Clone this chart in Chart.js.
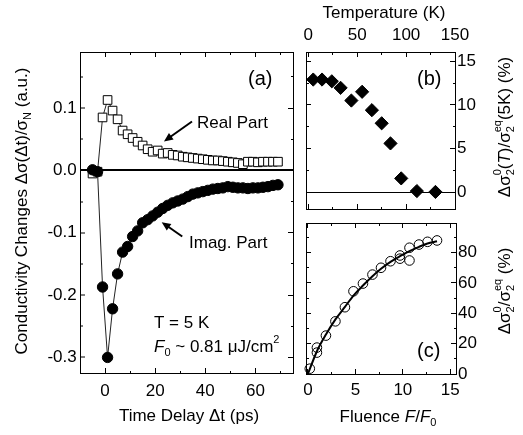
<!DOCTYPE html>
<html>
<head>
<meta charset="utf-8">
<script src="https://cdn.jsdelivr.net/npm/chart.js@4.4.1/dist/chart.umd.min.js"></script>
<style>
  body { margin: 0; background: #fff; }
  #wrap { position: relative; width: 523px; height: 435px; }
  #wrap canvas { position: absolute; left: 0; top: 0; }
</style>
</head>
<body>
<div id="wrap">
  <canvas id="chartA" width="523" height="435"></canvas>
  <canvas id="chartB" width="523" height="435"></canvas>
  <canvas id="chartC" width="523" height="435"></canvas>
</div>
<script>
// (a) conductivity changes vs time delay
var delayPs = [-5, -3, -1, 1, 3, 5, 7, 9, 11, 13, 15, 17, 19, 21, 23, 25, 27, 29, 31, 33,
  35, 37, 39, 41, 43, 45, 47, 49, 51, 53, 55, 57, 59, 61, 63, 65, 67, 69];
var realPart = [-0.005, -0.002, 0.085, 0.113, 0.096, 0.082, 0.064, 0.058, 0.052, 0.046,
  0.040, 0.034, 0.030, 0.032, 0.027, 0.028, 0.025, 0.024, 0.022, 0.021,
  0.020, 0.019, 0.018, 0.017, 0.016, 0.016, 0.015, 0.014, 0.013, 0.012,
  0.010, 0.014, 0.014, 0.013, 0.014, 0.014, 0.014, 0.014];
var imagPart = [0.001, -0.002, -0.187, -0.300, -0.222, -0.166, -0.131, -0.122, -0.106, -0.097,
  -0.084, -0.079, -0.073, -0.067, -0.061, -0.056, -0.052, -0.049, -0.046, -0.042,
  -0.038, -0.036, -0.034, -0.032, -0.030, -0.029, -0.028, -0.026, -0.027, -0.028,
  -0.028, -0.029, -0.028, -0.028, -0.027, -0.026, -0.024, -0.023];

// (b) temperature dependence
var tempK = [5, 14, 24, 33, 44, 55, 65, 75, 84, 95, 111, 130];
var sigmaT = [12.9, 12.9, 12.7, 11.95, 10.5, 11.5, 9.4, 7.9, 5.6, 1.6, 0.15, 0.05];

// (c) fluence dependence
var fluence = [0.2, 0.95, 0.95, 1.9, 2.9, 3.9, 4.8, 5.8, 6.8, 7.7, 8.7, 9.7, 9.7, 10.7, 10.7, 11.7, 12.6, 13.6];
var sigmaF = [3.5, 17.4, 14.1, 25.3, 34.7, 44, 54.5, 59.6, 65.5, 70, 74.3, 78.1, 76, 83.2, 74.8, 85.3, 87.1, 88];
var fitFluence = [0, 0.95, 1.9, 2.9, 3.9, 4.8, 5.8, 6.8, 7.7, 8.7, 9.7, 10.7, 11.7, 12.6, 13.6];
var fitSigma = [0, 15, 26, 36, 44.2, 51.7, 58.3, 64.4, 69.3, 73.9, 77.6, 80.9, 83.8, 86, 87.5];

var FONT = '"Liberation Sans", Arial, sans-serif';
Chart.defaults.font.family = FONT;
Chart.defaults.font.size = 17;
Chart.defaults.color = '#000';

function isMajor(v, major) {
  var r = v / major;
  return Math.abs(r - Math.round(r)) < 1e-6;
}

// boxed axis with inward ticks, short minor ticks, fixed box size
function frameAxis(position, min, max, step, major, size, fmt, pad) {
  var len = 5, minor = 3;
  var fromBorder = position === 'bottom' || position === 'right';
  return {
    type: 'linear',
    position: position,
    min: min,
    max: max,
    afterFit: function (s) {
      if (s.isHorizontal()) s.height = size; else s.width = size;
    },
    border: { display: true, color: '#000', width: 1 },
    grid: {
      drawOnChartArea: false,
      tickLength: -len,
      tickWidth: 1,
      tickColor: '#000',
      tickBorderDash: function (c) {
        if (!c.tick || isMajor(c.tick.value, major)) return [];
        return fromBorder ? [minor, 100] : [0, len - minor, minor, 100];
      }
    },
    ticks: {
      display: !!fmt,
      stepSize: step,
      includeBounds: false,
      autoSkip: false,
      maxRotation: 0,
      padding: pad || 0,
      font: { size: 17 },
      callback: function (v) {
        return fmt && isMajor(v, major) ? fmt(v) : '';
      }
    }
  };
}

function zeroLine(axis, width) {
  axis.grid.drawOnChartArea = true;
  axis.grid.color = function (c) {
    return c.tick && Math.abs(c.tick.value) < 1e-9 ? '#000' : 'rgba(0,0,0,0)';
  };
  axis.grid.lineWidth = width;
  return axis;
}

function fmtInt(v) { return String(Math.round(v)); }
function fmt1(v) { return (Math.round(v * 10) / 10).toFixed(1); }

function pts(xs, ys) {
  return xs.map(function (x, i) { return { x: x, y: ys[i] }; });
}

// text with italics, subscripts and superscripts
function drawRich(ctx, item) {
  var size = item.size || 17, small = Math.round(size * 0.62);
  ctx.save();
  ctx.translate(item.x, item.y);
  ctx.rotate(item.rot || 0);
  ctx.textBaseline = 'middle';
  ctx.textAlign = 'left';
  ctx.fillStyle = '#000';
  var w = 0, ops = [];
  item.parts.forEach(function (p) {
    if (typeof p === 'string') p = { t: p };
    if (p.t !== undefined) {
      var f = (p.i ? 'italic ' : '') + size + 'px ' + FONT;
      ctx.font = f;
      ops.push({ s: p.t, f: f, dx: w, dy: 0 });
      w += ctx.measureText(p.t).width;
    } else {
      var fs = small + 'px ' + FONT, ww = 0;
      ctx.font = fs;
      if (p.sub) {
        ops.push({ s: p.sub, f: fs, dx: w, dy: size * 0.38 });
        ww = Math.max(ww, ctx.measureText(p.sub).width);
      }
      if (p.sup) {
        ops.push({ s: p.sup, f: fs, dx: w, dy: -size * 0.42 });
        ww = Math.max(ww, ctx.measureText(p.sup).width);
      }
      w += ww;
    }
  });
  var x0 = item.align === 'center' ? -w / 2 : item.align === 'right' ? -w : 0;
  ops.forEach(function (o) {
    ctx.font = o.f;
    ctx.fillText(o.s, x0 + o.dx, o.dy);
  });
  ctx.restore();
}

function drawArrow(ctx, x1, y1, x2, y2) {
  var a = Math.atan2(y2 - y1, x2 - x1), L = 9, W = 4;
  var c = Math.cos(a), s = Math.sin(a);
  ctx.save();
  ctx.strokeStyle = '#000';
  ctx.fillStyle = '#000';
  ctx.lineWidth = 2;
  ctx.beginPath();
  ctx.moveTo(x1, y1);
  ctx.lineTo(x2 - L * 0.7 * c, y2 - L * 0.7 * s);
  ctx.stroke();
  ctx.beginPath();
  ctx.moveTo(x2, y2);
  ctx.lineTo(x2 - L * c + W * s, y2 - L * s - W * c);
  ctx.lineTo(x2 - L * c - W * s, y2 - L * s + W * c);
  ctx.closePath();
  ctx.fill();
  ctx.restore();
}

function notes(texts, arrows) {
  return {
    id: 'notes',
    afterDraw: function (chart) {
      var ctx = chart.ctx, sx = chart.scales.x, sy = chart.scales.y;
      (arrows || []).forEach(function (a) {
        drawArrow(ctx, sx.getPixelForValue(a[0]), sy.getPixelForValue(a[1]),
          sx.getPixelForValue(a[2]), sy.getPixelForValue(a[3]));
      });
      texts.forEach(function (t) { drawRich(ctx, t); });
    }
  };
}

var base = {
  responsive: false,
  animation: false,
  devicePixelRatio: 1,
  layout: { padding: 0 },
  plugins: { legend: { display: false }, tooltip: { enabled: false } }
};

function opts(scales) {
  return Object.assign({}, base, { scales: scales });
}

// ---- panel (a)
new Chart(document.getElementById('chartA'), {
  type: 'scatter',
  data: {
    datasets: [{
      data: pts(delayPs, imagPart),
      xAxisID: 'x', yAxisID: 'y',
      showLine: true, borderColor: '#222', borderWidth: 1,
      pointStyle: 'circle', pointRadius: 5.2,
      pointBackgroundColor: '#000', pointBorderColor: '#000', pointBorderWidth: 1,
      clip: false
    }, {
      data: pts(delayPs, realPart),
      xAxisID: 'x', yAxisID: 'y',
      showLine: true, borderColor: '#222', borderWidth: 1,
      pointStyle: 'rect', pointRadius: 6.1,
      pointBackgroundColor: '#fff', pointBorderColor: '#000', pointBorderWidth: 1,
      clip: false
    }]
  },
  options: opts({
    x: frameAxis('bottom', -10, 75, 10, 20, 62, fmtInt, 13.5),
    x2: frameAxis('top', -10, 75, 10, 20, 52, null),
    y: zeroLine(frameAxis('left', -0.325, 0.19, 0.05, 0.1, 80, fmt1, 8.3), 2),
    y2: frameAxis('right', -0.325, 0.19, 0.05, 0.1, 230, null)
  }),
  plugins: [notes([
    { x: 22, y: 211, rot: -Math.PI / 2, align: 'center',
      parts: ['Conductivity Changes \u0394\u03c3(\u0394t)/\u03c3', { sub: 'N' }, ' (a.u.)'] },
    { x: 189, y: 416, align: 'center', parts: ['Time Delay \u0394t (ps)'] },
    { x: 248, y: 79, size: 20, parts: ['(a)'] },
    { x: 197, y: 123, parts: ['Real Part'] },
    { x: 189, y: 243, parts: ['Imag. Part'] },
    { x: 154, y: 323, parts: ['T = 5 K'] },
    { x: 154, y: 347, parts: [{ t: 'F', i: true }, { sub: '0' }, ' ~ 0.81 \u03bcJ/cm', { sup: '2' }] }
  ], [
    [34.7, 0.0785, 23.5, 0.0465],
    [30.8, -0.106, 22.6, -0.083]
  ])]
});

// ---- panel (b)
new Chart(document.getElementById('chartB'), {
  type: 'scatter',
  data: {
    datasets: [{
      data: pts(tempK, sigmaT),
      xAxisID: 'x', yAxisID: 'y',
      pointStyle: 'rectRot', pointRadius: 6.6,
      pointBackgroundColor: '#000', pointBorderColor: '#000', pointBorderWidth: 1,
      clip: false
    }]
  },
  options: opts({
    x: frameAxis('top', -2.4, 150, 25, 50, 52, fmtInt, 11.8),
    x2: frameAxis('bottom', -2.4, 150, 25, 50, 226, null),
    y: zeroLine(frameAxis('right', -1.9, 16.05, 2.5, 5, 68, fmtInt, 7), 1),
    y2: frameAxis('left', -1.9, 16.05, 2.5, 5, 306, null)
  }),
  plugins: [notes([
    { x: 384, y: 13, align: 'center', parts: ['Temperature (K)'] },
    { x: 417, y: 79, size: 20, parts: ['(b)'] },
    { x: 505, y: 127, rot: -Math.PI / 2, align: 'center',
      parts: ['\u0394\u03c3', { sub: '2', sup: '0' }, '(', { t: 'T', i: true }, ')/\u03c3',
        { sub: '2', sup: 'eq' }, '(5K) (%)'] }
  ])]
});

// ---- panel (c)
new Chart(document.getElementById('chartC'), {
  type: 'scatter',
  data: {
    datasets: [{
      data: pts(fitFluence, fitSigma),
      xAxisID: 'x', yAxisID: 'y',
      showLine: true, borderColor: '#000', borderWidth: 2,
      cubicInterpolationMode: 'monotone', pointRadius: 0,
      clip: false
    }, {
      data: pts(fluence, sigmaF),
      xAxisID: 'x', yAxisID: 'y',
      pointStyle: 'circle', pointRadius: 4.8,
      pointBackgroundColor: 'rgba(0,0,0,0)', pointBorderColor: '#000', pointBorderWidth: 1,
      clip: false
    }]
  },
  options: opts({
    x: frameAxis('bottom', -0.2, 15.6, 2.5, 5, 61, fmtInt, 10.8),
    x2: frameAxis('top', -0.2, 15.6, 2.5, 5, 223, null),
    y: frameAxis('right', 0, 99.5, 10, 20, 67, fmtInt, 7),
    y2: frameAxis('left', 0, 99.5, 10, 20, 306, null)
  }),
  plugins: [notes([
    { x: 388, y: 417, align: 'center',
      parts: ['Fluence ', { t: 'F', i: true }, '/', { t: 'F', i: true }, { sub: '0' }] },
    { x: 417, y: 351, size: 20, parts: ['(c)'] },
    { x: 505, y: 291, rot: -Math.PI / 2, align: 'center',
      parts: ['\u0394\u03c3', { sub: '2', sup: '0' }, '/\u03c3', { sub: '2', sup: 'eq' }, ' (%)'] }
  ])]
});
</script>
</body>
</html>
